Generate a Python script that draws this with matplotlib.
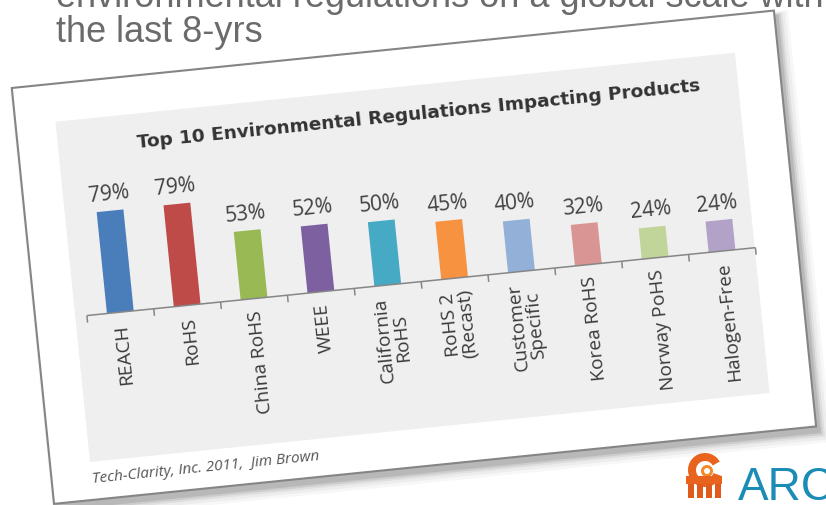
import numpy as np
import matplotlib
matplotlib.use('Agg')
import matplotlib.pyplot as plt
from matplotlib.transforms import Affine2D
from matplotlib.patches import Polygon, Wedge, Rectangle

categories = ['REACH', 'RoHS', 'China RoHS', 'WEEE', 'California\nRoHS',
              'RoHS 2\n(Recast)', 'Customer\nSpecific', 'Korea RoHS',
              'Norway PoHS', 'Halogen-Free']
values = [79, 79, 53, 52, 50, 45, 40, 32, 24, 24]
colors = ['#4a7ebb', '#be4b48', '#98b954', '#7d60a0', '#46aac5',
          '#f69240', '#93b0d8', '#d99593', '#c1d59b', '#b2a2c8']
title = 'Top 10 Environmental Regulations Impacting Products'
source = 'Tech-Clarity, Inc. 2011,  Jim Brown'
slide_lines = ['environmental regulations on a global scale within', 'the last 8-yrs']

W, H = 826, 505
fig = plt.figure(figsize=(W / 100, H / 100), dpi=100)
ax = fig.add_axes([0, 0, 1, 1])
ax.set_xlim(0, W)
ax.set_ylim(H, 0)
ax.axis('off')

# slide text behind the picture
for yb, line in zip([7, 42], slide_lines):
    ax.text(56, yb, line, fontsize=26, color='#6b6b6b', family='Liberation Sans',
            va='baseline')

# the chart picture is tilted on the slide
ang = 5.8
c, s = np.cos(np.radians(ang)), np.sin(np.radians(ang))
card = Affine2D(np.array([[c, -s, 90.0], [-s, -c, 462.0], [0, 0, 1.0]])) + ax.transData

slot, x0, y0, k = 67.2, 11.7, 146.0, 1.29
chart = Affine2D().scale(slot, k).translate(x0 + slot / 2, y0) + card

outer = np.array([(-40, -38), (726, -38), (726, 380), (-40, 380)], float)
for d, a in [(12, 0.03), (9, 0.04), (6, 0.06), (4, 0.08), (2, 0.10)]:
    sh = outer + np.array([[-d / 3, -d], [d, -d], [d, d / 3], [-d / 3, d / 3]]) + [2, -5]
    ax.add_patch(Polygon(sh, closed=True, fc='black', ec='none', alpha=a, transform=card))
ax.add_patch(Polygon(outer, closed=True, fc='white', ec='#858585', lw=1.5, transform=card))
ax.add_patch(Polygon([(0, 0), (683, 0), (683, 342), (0, 342)], closed=True,
                     fc='#efefef', ec='none', transform=card))

ax.text(362, 313, title, transform=card, rotation=ang, rotation_mode='anchor',
        ha='center', va='center', fontsize=13.3, fontweight='bold', color='#333333',
        family='DejaVu Sans')

x = np.arange(len(values))
ax.bar(x, values, width=0.4, color=colors, transform=chart, zorder=3)
ax.plot([-0.5, len(values) - 0.5], [0, 0], color='#868686', lw=1.1, transform=chart,
        solid_capstyle='butt', zorder=4)
ax.vlines(np.arange(-0.5, len(values)), -5.5, 0, color='#868686', lw=1.1,
          transform=chart, zorder=4)

for i, v in enumerate(values):
    ax.text(i, v + 4.5, f'{v}%', transform=chart, rotation=ang, rotation_mode='anchor',
            ha='center', va='bottom', fontsize=15, color='#404040', family='Open Sans')
for i, lab in enumerate(categories):
    ax.text(i, -9, lab, transform=chart, rotation=90 + ang, rotation_mode='anchor',
            ha='right', va='center', multialignment='center', fontsize=13.8,
            color='#3a3a3a', family='Open Sans', linespacing=1.0)

ax.text(0, -18, source, transform=card, rotation=ang, rotation_mode='anchor',
        ha='left', va='center', fontsize=11, style='italic', color='#555555',
        family='Open Sans')

# ARCA logo, bottom right
ax.add_patch(Wedge((705, 470), 17, 20, 330, width=8, fc='#e8641e', ec='none'))
ax.add_patch(Wedge((707, 471), 6, 0, 360, width=3, fc='#f08a2a', ec='none'))
for lx in [688, 697, 706, 715]:
    ax.add_patch(Rectangle((lx, 480), 6, 18, fc='#e05a1c', ec='none'))
ax.add_patch(Rectangle((686, 476), 36, 8, fc='#e8641e', ec='none'))
ax.text(738, 500, 'ARCA', fontsize=33, color='#1a8cb5', family='Liberation Sans',
        va='baseline')

fig.savefig('out.png', dpi=100)
